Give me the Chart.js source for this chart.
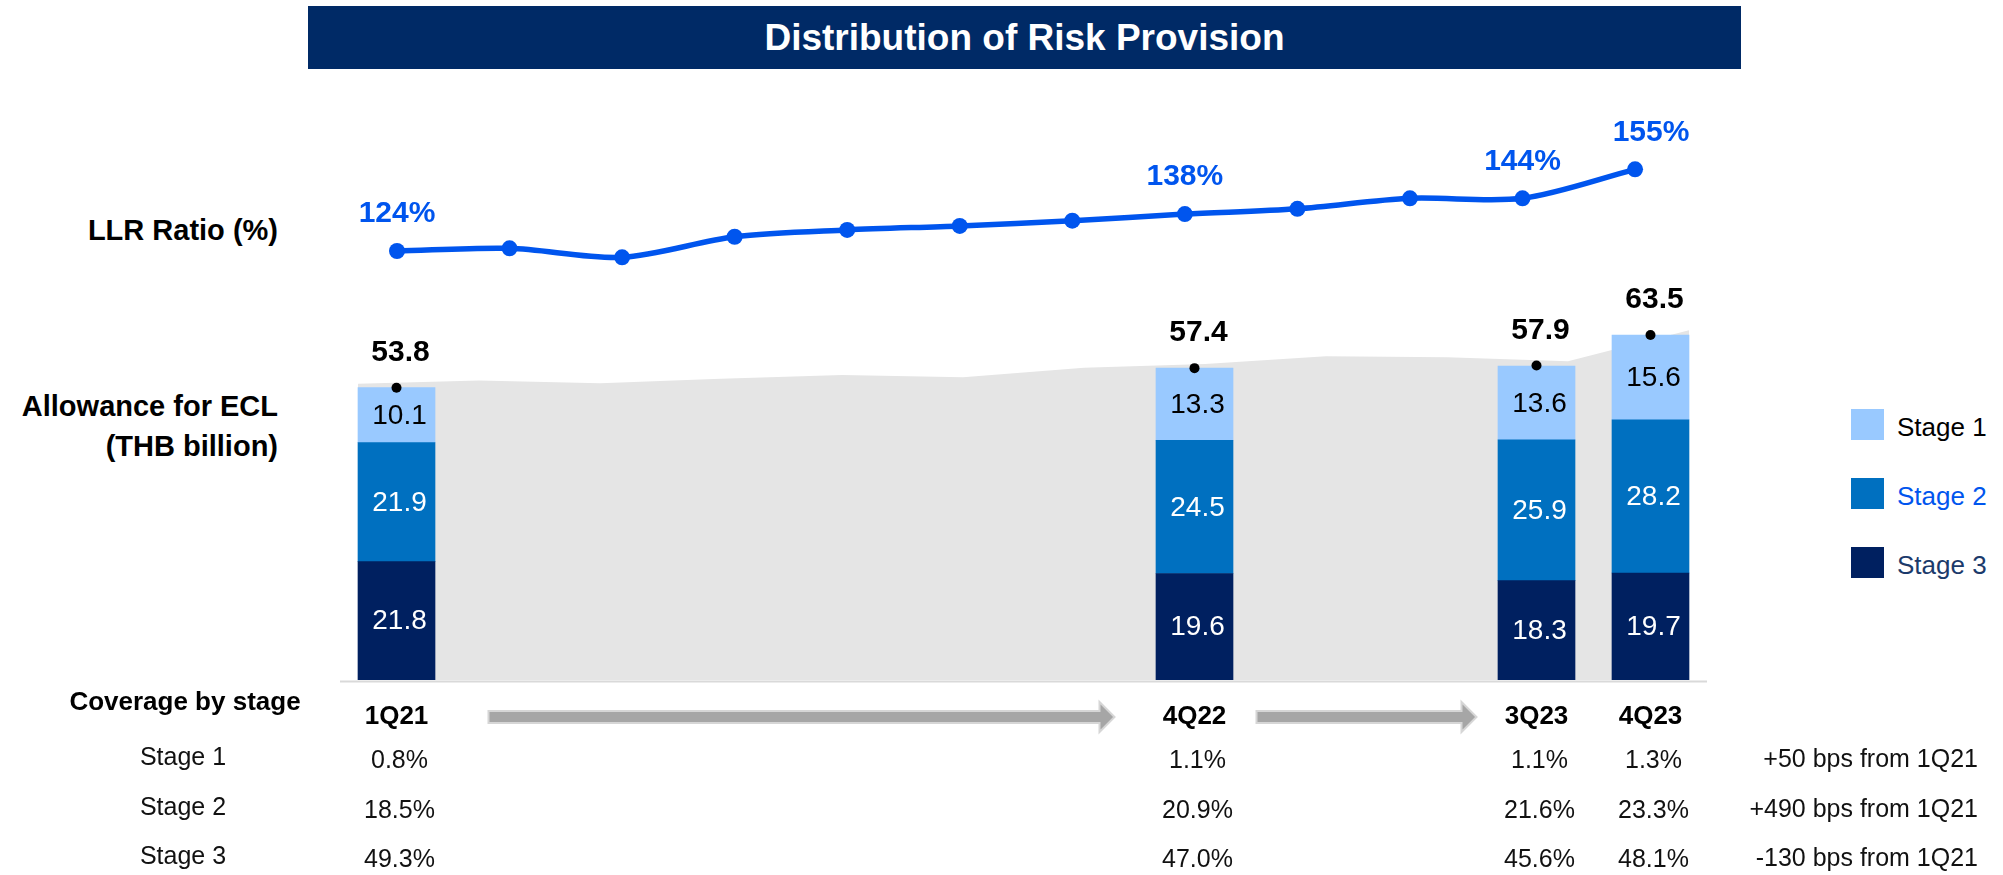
<!DOCTYPE html>
<html>
<head>
<meta charset="utf-8">
<title>Distribution of Risk Provision</title>
<script src="https://cdn.jsdelivr.net/npm/chart.js@4.4.1/dist/chart.umd.min.js"></script>
<style>
  html, body { margin: 0; padding: 0; background: #fff; }
  body { width: 2003px; height: 875px; position: relative; overflow: hidden;
         font-family: 'Liberation Sans', Arial, sans-serif; }
  #chart { position: absolute; left: 0; top: 0; }
  .title { position: absolute; left: 308px; top: 6px; width: 1433px; height: 63px;
           background: #002A66; color: #fff; font-weight: bold; font-size: 37px;
           display: flex; align-items: center; justify-content: center; }
  .side { position: absolute; right: 1725px; font-weight: bold; font-size: 29px;
          line-height: 1; text-align: right; white-space: nowrap; color: #000;
          transform: translateY(-50%); }
  .legend-row { position: absolute; left: 1851px; height: 31px; display: flex; align-items: center; }
  .legend-row .box { width: 33px; height: 31px; margin-right: 13px; }
  .legend-row span { font-size: 26px; padding-top: 5px; }
</style>
</head>
<body>
<div class="title">Distribution of Risk Provision</div>
<div class="side" style="top:230px">LLR Ratio (%)</div>
<div class="side" style="top:406px">Allowance for ECL</div>
<div class="side" style="top:446px">(THB billion)</div>
<div id="legend"></div>
<canvas id="chart" width="2003" height="875"></canvas>

<script>
'use strict';

// quarters on the LLR line / grey area
var quarters = ['1Q21', '2Q21', '3Q21', '4Q21', '1Q22', '2Q22', '3Q22', '4Q22', '1Q23', '2Q23', '3Q23', '4Q23'];
var llrRatio = [124, 125, 121.6, 129.4, 132, 133.5, 135.5, 138, 140, 144, 144, 155];
var allowanceTotal = [53.8, 54.4, 53.9, 54.7, 55.4, 55.0, 56.7, 57.4, 58.8, 58.6, 57.9, 63.5];

// quarters shown as stacked bars
var barQuarters = ['1Q21', '4Q22', '3Q23', '4Q23'];
var stage1 = [10.1, 13.3, 13.6, 15.6];
var stage2 = [21.9, 24.5, 25.9, 28.2];
var stage3 = [21.8, 19.6, 18.3, 19.7];
var totals = [53.8, 57.4, 57.9, 63.5];

// coverage by stage (%)
var coverageStage1 = [0.8, 1.1, 1.1, 1.3];
var coverageStage2 = [18.5, 20.9, 21.6, 23.3];
var coverageStage3 = [49.3, 47.0, 45.6, 48.1];
var coverageNotes = ['+50 bps from 1Q21', '+490 bps from 1Q21', '-130 bps from 1Q21'];

var stageNames = ['Stage 1', 'Stage 2', 'Stage 3'];
var stageColors = ['#99C9FF', '#0070C0', '#002060'];
var legendTextColors = ['#000000', '#0055EE', '#1B3A6B'];
var lineBlue = '#0055EE';
var FONT = "'Liberation Sans', Arial, sans-serif";

// plot box on the page, everything is placed against it
var AREA = { left: 340, right: 1707, top: 100, bottom: 680 };

function spanFor(firstPx, stepPx) {
    return { min: (AREA.left - firstPx) / stepPx, max: (AREA.right - firstPx) / stepPx };
}
var lineX = spanFor(397, 112.55);
var barX = spanFor(396.5, 114);
var areaX = spanFor(358, 121);
var barPxPerUnit = 5.433;
var areaPxPerUnit = 5.506;
var linePxPerUnit = 2.635;

function byQuarter(values, labels) {
    return values.map(function (v, i) {
        return { x: quarters.indexOf(labels[i]), y: v };
    });
}

// legend
var legendEl = document.getElementById('legend');
stageNames.forEach(function (name, i) {
    var row = document.createElement('div');
    row.className = 'legend-row';
    row.style.top = (409 + i * 69) + 'px';
    row.innerHTML = '<div class="box" style="background:' + stageColors[i] + '"></div>' +
        '<span style="color:' + legendTextColors[i] + '">' + name + '</span>';
    legendEl.appendChild(row);
});

function drawArrow(ctx, x0, x1, y) {
    ctx.beginPath();
    ctx.moveTo(x0, y - 6);
    ctx.lineTo(x1 - 15, y - 6);
    ctx.lineTo(x1 - 15, y - 15);
    ctx.lineTo(x1, y);
    ctx.lineTo(x1 - 15, y + 15);
    ctx.lineTo(x1 - 15, y + 6);
    ctx.lineTo(x0, y + 6);
    ctx.closePath();
    ctx.fillStyle = '#A6A6A6';
    ctx.fill();
    ctx.lineWidth = 2;
    ctx.strokeStyle = '#D6D6D6';
    ctx.stroke();
}

var annotate = {
    id: 'annotate',
    afterDatasetsDraw: function (chart) {
        var ctx = chart.ctx;
        var ca = chart.chartArea;
        var xb = chart.scales.xb;
        ctx.save();
        ctx.textAlign = 'center';
        ctx.textBaseline = 'middle';

        // base line
        ctx.strokeStyle = '#D9D9D9';
        ctx.lineWidth = 2;
        ctx.beginPath();
        ctx.moveTo(ca.left, ca.bottom + 1.5);
        ctx.lineTo(ca.right, ca.bottom + 1.5);
        ctx.stroke();

        // values inside the bar segments
        ctx.font = '28px ' + FONT;
        chart.data.datasets.forEach(function (ds, di) {
            if (ds.type !== 'bar') return;
            chart.getDatasetMeta(di).data.forEach(function (bar, i) {
                ctx.fillStyle = ds.labelColor;
                ctx.fillText(ds.data[i].y.toFixed(1), bar.x + 3, (bar.y + bar.base) / 2 + 1);
            });
        });

        // totals above the bars
        var totMeta = chart.getDatasetMeta(chart.data.datasets.findIndex(function (d) { return d.id === 'total'; }));
        ctx.font = 'bold 30px ' + FONT;
        ctx.fillStyle = '#000';
        totMeta.data.forEach(function (pt, i) {
            ctx.fillText(totals[i].toFixed(1), pt.x + 4, pt.y - 35);
        });

        // LLR labels
        var lineMeta = chart.getDatasetMeta(chart.data.datasets.findIndex(function (d) { return d.id === 'llr'; }));
        ctx.fillStyle = lineBlue;
        barQuarters.forEach(function (q) {
            var idx = quarters.indexOf(q);
            var pt = lineMeta.data[idx];
            var shift = idx === quarters.length - 1 ? 16 : 0;
            ctx.fillText(Math.round(llrRatio[idx]) + '%', pt.x + shift, pt.y - 37);
        });

        // coverage table
        var headY = 717;
        ctx.fillStyle = '#000';
        ctx.font = 'bold 26px ' + FONT;
        ctx.fillText('Coverage by stage', 185, 703);
        barQuarters.forEach(function (q) {
            ctx.fillText(q, xb.getPixelForValue(quarters.indexOf(q)), headY);
        });

        drawArrow(ctx, xb.getPixelForValue(0) + 92, xb.getPixelForValue(7) - 80, headY);
        drawArrow(ctx, xb.getPixelForValue(7) + 62, xb.getPixelForValue(10) - 60, headY);

        var rows = [coverageStage1, coverageStage2, coverageStage3];
        var rowY = [758, 808, 857];
        ctx.font = '25px ' + FONT;
        ctx.fillStyle = '#111';
        rows.forEach(function (vals, r) {
            ctx.textAlign = 'center';
            ctx.fillText(stageNames[r], 183, rowY[r]);
            vals.forEach(function (v, i) {
                var x = xb.getPixelForValue(quarters.indexOf(barQuarters[i])) + 3;
                ctx.fillText(v.toFixed(1) + '%', x, rowY[r] + 3);
            });
            ctx.textAlign = 'right';
            ctx.fillText(coverageNotes[r], 1978, rowY[r] + 2);
        });
        ctx.restore();
    }
};

Chart.defaults.font.family = FONT;

var chart = new Chart(document.getElementById('chart'), {
    type: 'bar',
    data: {
        datasets: [
            {
                type: 'bar', label: 'Stage 3', data: byQuarter(stage3, barQuarters),
                backgroundColor: stageColors[2], labelColor: '#ffffff', grouped: false,
                xAxisID: 'xb', yAxisID: 'y', barThickness: 77, order: 5
            },
            {
                type: 'bar', label: 'Stage 2', data: byQuarter(stage2, barQuarters),
                backgroundColor: stageColors[1], labelColor: '#ffffff', grouped: false,
                xAxisID: 'xb', yAxisID: 'y', barThickness: 77, order: 5
            },
            {
                type: 'bar', label: 'Stage 1', data: byQuarter(stage1, barQuarters),
                backgroundColor: stageColors[0], labelColor: '#000000', grouped: false,
                xAxisID: 'xb', yAxisID: 'y', barThickness: 77, order: 5
            },
            {
                id: 'area', type: 'line', label: 'Allowance',
                data: byQuarter(allowanceTotal, quarters),
                xAxisID: 'xa', yAxisID: 'ya', order: 10,
                fill: 'origin', backgroundColor: '#E5E5E5', borderWidth: 0,
                pointRadius: 0, tension: 0
            },
            {
                id: 'total', type: 'line', label: 'Total',
                data: byQuarter(totals, barQuarters),
                xAxisID: 'xb', yAxisID: 'yt', order: 2, showLine: false,
                pointRadius: 5, pointBackgroundColor: '#000', pointBorderWidth: 0
            },
            {
                id: 'llr', type: 'line', label: 'LLR Ratio (%)',
                data: byQuarter(llrRatio, quarters),
                xAxisID: 'xl', yAxisID: 'yl', order: 1,
                borderColor: lineBlue, borderWidth: 5.5, tension: 0.3,
                pointRadius: 8, pointBackgroundColor: lineBlue, pointBorderWidth: 0,
                fill: false
            }
        ]
    },
    options: {
        responsive: false,
        animation: false,
        events: [],
        layout: {
            padding: { left: AREA.left, right: 2003 - AREA.right, top: AREA.top, bottom: 875 - AREA.bottom }
        },
        plugins: { legend: { display: false }, tooltip: { enabled: false } },
        scales: {
            xb: { type: 'linear', display: false, offset: false, stacked: true, min: barX.min, max: barX.max },
            xa: { type: 'linear', display: false, offset: false, min: areaX.min, max: areaX.max },
            xl: { type: 'linear', display: false, offset: false, min: lineX.min, max: lineX.max },
            y: { display: false, stacked: true, min: 0, max: (AREA.bottom - AREA.top) / barPxPerUnit },
            yt: { display: false, min: 0, max: (AREA.bottom - AREA.top) / barPxPerUnit },
            ya: { display: false, min: 0, max: (AREA.bottom - AREA.top) / areaPxPerUnit },
            yl: {
                display: false,
                min: 124 - (AREA.bottom - 251) / linePxPerUnit,
                max: 124 + (251 - AREA.top) / linePxPerUnit
            }
        }
    },
    plugins: [annotate]
});
</script>
</body>
</html>
